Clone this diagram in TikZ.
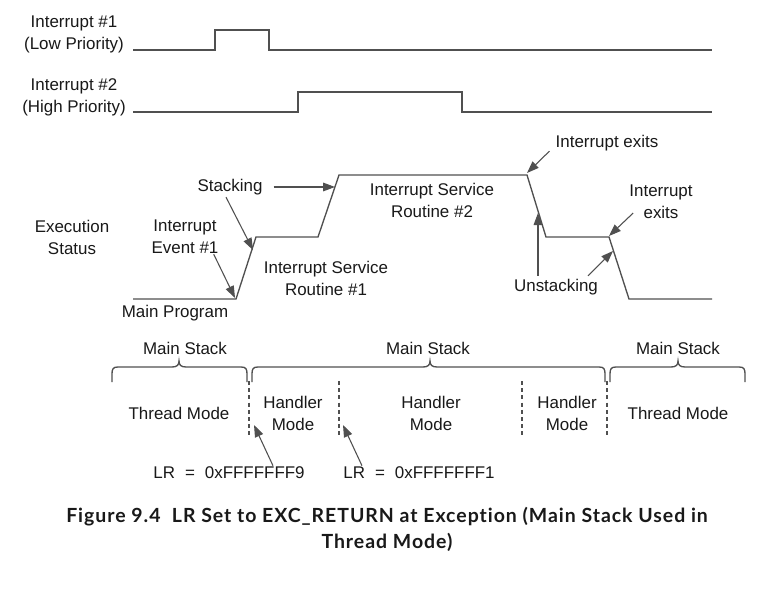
\documentclass[tikz,border=0pt]{standalone}
\usepackage{fontspec}
\setmainfont{Liberation Sans}
\newfontfamily\capfont{Lato}[LetterSpace=5,Ligatures=NoCommon]
\usetikzlibrary{arrows.meta}
\definecolor{ln}{RGB}{80,80,80}
\definecolor{txt}{RGB}{25,25,25}
\newcommand\mybrace[3]{%
  \draw[sig] (#1,382) -- (#1,374) .. controls (#1,369) and (#1+1,367) .. (#1+6,367)
    -- (#3-7,367) .. controls (#3-2,367) and (#3,365) .. (#3,361)
    .. controls (#3,365) and (#3+2,367) .. (#3+7,367)
    -- (#2-6,367) .. controls (#2-1,367) and (#2,369) .. (#2,374) -- (#2,382);}
\begin{document}
\begin{tikzpicture}[x=0.75pt,y=-0.75pt,
  lbl/.style={font=\fontsize{12.7}{16.5}\selectfont, align=center, inner sep=0pt, text=txt},
  sig/.style={draw=ln, line width=1pt},
  arr/.style={draw=ln, line width=0.8pt, -{Triangle[length=9pt,width=6.5pt]}},
  dsh/.style={draw=ln, line width=0.8pt, dash pattern=on 3pt off 2.4pt}]
\useasboundingbox (0,0) rectangle (766,599);
\fill[white] (0,0) rectangle (766,599);

% waveforms
\draw[sig] (133,50) -- (215,50) -- (215,30) -- (269,30) -- (269,50) -- (712,50);
\draw[sig] (133,112) -- (298,112) -- (298,92) -- (462,92) -- (462,112) -- (712,112);
\draw[sig] (133,299) -- (236,299) -- (256,237) -- (318,237) -- (339,175) -- (527,175)
  -- (546,237) -- (609,237) -- (629,299) -- (712,299);

% labels
\node[lbl] (i1) at (74,34) {Interrupt \#1\\(Low Priority)};
\node[lbl] (i2) at (74,97) {Interrupt \#2\\(High Priority)};
\node[lbl] (exe) at (72,237) {Execution\\Status};
\node[lbl] (ev) at (185,237) {Interrupt\\Event \#1};
\node[lbl] (stk) at (230,187) {Stacking};
\node[lbl] (isr1) at (326,278) {Interrupt Service\\Routine \#1};
\node[lbl] (isr2) at (432,200) {Interrupt Service\\Routine \#2};
\node[lbl] (mp) at (175,313) {Main Program};
\node[lbl] (ex1) at (607,143) {Interrupt exits};
\node[lbl] (ex2) at (661,202) {Interrupt\\exits};
\node[lbl] (uns) at (556,287) {Unstacking};

% arrow tips
\coordinate (t1) at (235,298);
\coordinate (t2) at (253,250);
\coordinate (t3) at (335,187);
\coordinate (t4) at (527,173);
\coordinate (t5) at (609,236);
\coordinate (t6) at (538,213);
\coordinate (t7) at (613,251);
\coordinate (t8) at (254,425);
\coordinate (t9) at (343,425);

\draw[arr] ([shift={(-5,0)}]ev.south east) -- (t1);
\draw[arr] ([shift={(-4,2)}]stk.south) -- (t2);
\draw[arr] ([shift={(11,0)}]stk.east) -- (t3);
\draw[arr] ([shift={(-6,0)}]ex1.south west) -- (t4);
\draw[arr] ([shift={(4,11)}]ex2.west) -- (t5);
\draw[arr] ([shift={(-18,-3)}]uns.north) -- (t6);
\draw[arr] ([shift={(32,-3)}]uns.north) -- (t7);

% stacks
\node[lbl] (ms1) at (185,348) {Main Stack};
\node[lbl] (ms2) at (428,348) {Main Stack};
\node[lbl] (ms3) at (678,348) {Main Stack};
\mybrace{112}{247}{179}
\mybrace{252}{605}{430}
\mybrace{610}{745}{678}

\draw[dsh] (249,381) -- (249,438);
\draw[dsh] (339,381) -- (339,438);
\draw[dsh] (522,381) -- (522,438);
\draw[dsh] (607,381) -- (607,438);

\node[lbl] (tm1) at (179,413) {Thread Mode};
\node[lbl] (hm1) at (293,413) {Handler\\Mode};
\node[lbl] (hm2) at (431,413) {Handler\\Mode};
\node[lbl] (hm3) at (567,413) {Handler\\Mode};
\node[lbl] (tm2) at (678,413) {Thread Mode};

\node[lbl] (lr1) at (229,473) {LR\hspace{7.5pt}=\hspace{7.5pt}0xFFFFFFF9};
\node[lbl] (lr2) at (419,473) {LR\hspace{7.5pt}=\hspace{7.5pt}0xFFFFFFF1};
\draw[arr] ([shift={(44,-1)}]lr1.north) -- (t8);
\draw[arr] ([shift={(-57,-1)}]lr2.north) -- (t9);

% caption
\node[inner sep=0pt, align=center, text=txt, font=\capfont\bfseries\fontsize{14.6}{19.5}\selectfont] (cap) at (387,529)
  {Figure 9.4\ \ LR Set to EXC\_RETURN at Exception (Main Stack Used in\\Thread Mode)};
\end{tikzpicture}
\end{document}
